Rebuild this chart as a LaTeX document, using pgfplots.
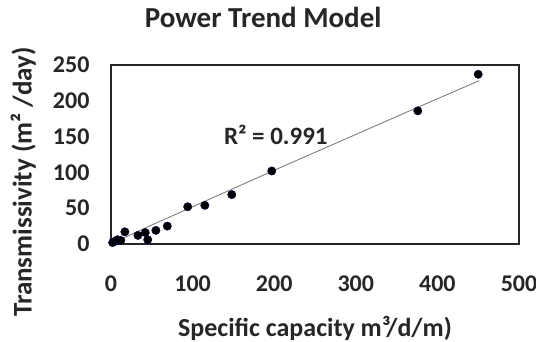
\documentclass[border=0pt]{standalone}
\usepackage{pgfplots}
\pgfplotsset{compat=1.18}
\usepackage{fontspec}
\setmainfont{Carlito}
\begin{document}
\begin{tikzpicture}[x=1pt,y=1pt]
\useasboundingbox (0,0) rectangle (536,341);
\begin{axis}[
  at={(111pt,97pt)}, anchor=south west,
  scale only axis, width=408pt, height=179pt,
  xmin=0, xmax=500, ymin=0, ymax=250,
  xtick={0,100,...,500}, ytick={0,50,...,250},
  major tick length=0pt,
  axis line style={draw=black!85, line width=2.2pt},
  /pgf/number format/assume math mode=true,
  tick label style={font=\fontsize{24}{26}\selectfont\bfseries, text=black!85},
  yticklabel style={xshift=-18pt},
  xticklabel style={yshift=-28pt},
  title={\fontsize{29}{32}\selectfont\bfseries Power Trend Model},
  title style={at={(axis description cs:0.373,1.235)}, anchor=center, text=black!85},
  xlabel={\fontsize{26}{29}\selectfont\bfseries Specific capacity m³/d/m)},
  xlabel style={at={(axis description cs:0.5,-0.469)}, anchor=center, text=black!85},
  ylabel={\fontsize{27}{30}\selectfont\bfseries Transmissivity (m² /day)},
  ylabel style={at={(axis description cs:-0.215,0.346)}, anchor=center, rotate=0, text=black!85},
  clip=false,
]
\addplot[gray, line width=0.9pt] coordinates {
(2,1.1) (20,10.8) (50,26.5) (100,52) (200,103) (300,153) (376,191) (451,228)};
\addplot[only marks, mark=*, mark size=4.2pt, mark options={fill=black, draw=black!70!blue}] coordinates {
(2,2) (5,4) (8,6) (12,5)
(17,17) (33,12) (42,16) (45,6) (55,19) (69,25)
(94,52) (115,54) (148,69) (197,102) (376,186) (450,237)};
\node[font=\fontsize{25}{28}\selectfont\bfseries, text=black!85] at (axis cs:202,152) {R² = 0.991};
\end{axis}
\end{tikzpicture}
\end{document}
